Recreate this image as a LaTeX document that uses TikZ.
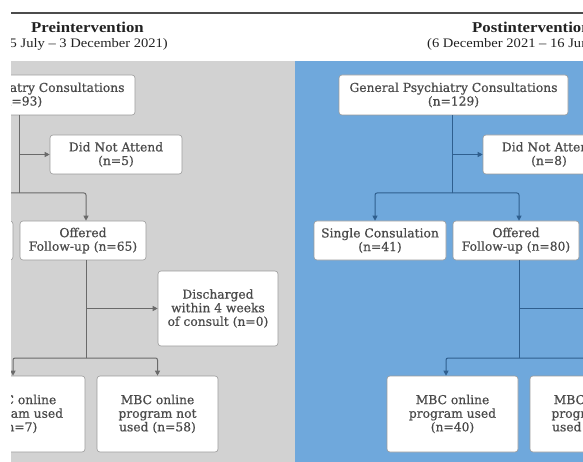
\documentclass[tikz,border=0pt]{standalone}
\usepackage{fontspec}
\setmainfont{DejaVu Serif}
\newfontfamily\boxfont[FakeBold=0.6]{DejaVu Serif}
\newfontfamily\titlefont[FakeStretch=1.12]{Liberation Serif}
\usetikzlibrary{arrows.meta}
\definecolor{panelgrey}{HTML}{D2D2D2}
\definecolor{panelblue}{HTML}{6FA8DC}
\definecolor{linegrey}{HTML}{6A6A6A}
\definecolor{lineblue}{HTML}{2F5F8F}
\definecolor{boxtext}{HTML}{4A4A4A}
\definecolor{boxedge}{HTML}{9A9A9A}
\definecolor{titletext}{HTML}{222222}
\begin{document}
\begin{tikzpicture}[x=1pt,y=-1pt,
  fbox/.style={draw=boxedge, line width=0.6pt, fill=white, rounded corners=3pt,
    align=center, text=boxtext, font=\boxfont\fontsize{12.3}{13.6}\selectfont, inner sep=0pt},
  lg/.style={draw=linegrey, line width=1pt, rounded corners=2pt},
  lb/.style={draw=lineblue, line width=1pt, rounded corners=2pt},
  arr/.style={-{Triangle[length=5pt,width=5pt]}},
  ttl/.style={font=\titlefont\bfseries\fontsize{15}{18}\selectfont, text=titletext, inner sep=0pt},
  sub/.style={font=\titlefont\fontsize{13}{15}\selectfont, text=titletext, inner sep=0pt}
]
\useasboundingbox[fill=white] (0,0) rectangle (583,462);
\begin{scope}
\clip (11,0) rectangle (583,462);
% panels
\fill[panelgrey] (-300,61) rectangle (294.5,470);
\fill[panelblue] (294.5,61) rectangle (800,470);
\draw[draw=black!70, line width=1.1pt] (0,13) -- (600,13);
% titles
\node[ttl] (Lt) at (87.5,27) {Preintervention};
\node[sub, anchor=east] (Ls) at (168,44) {(5 July – 3 December 2021)};
\node[ttl, anchor=west] (Bt) at (472,27) {Postintervention};
\node[sub, anchor=west] (Bs) at (427,44) {(6 December 2021 – 16 June 2022)};

% ---------- left panel boxes ----------
\node[fbox, minimum width=229pt, minimum height=40pt] (Lgen) at (20.5,95) {General Psychiatry Consultations\\(n=93)};
\node[fbox, minimum width=132pt, minimum height=39pt] (Ldna) at (116,154.5) {Did Not Attend\\(n=5)};
\node[fbox, minimum width=132pt, minimum height=39pt] (Lsingle) at (-53,240.5) {};
\node[fbox, minimum width=126pt, minimum height=39pt] (Loff) at (83,240.5) {Offered\\Follow-up (n=65)};
\node[fbox, minimum width=120pt, minimum height=75pt] (Ldis) at (218,308.5) {Discharged\\within 4 weeks\\of consult (n=0)};
\node[fbox, minimum width=131pt, minimum height=76pt] (Lused) at (19.5,414) {MBC online\\program used\\(n=7)};
\node[fbox, minimum width=121pt, minimum height=76pt] (Lnot) at (157.5,414) {MBC online\\program not\\used (n=58)};

% ---------- right panel boxes ----------
\node[fbox, minimum width=229pt, minimum height=40pt] (Bgen) at (453.5,95) {General Psychiatry Consultations\\(n=129)};
\node[fbox, minimum width=132pt, minimum height=39pt] (Bdna) at (549,154.5) {Did Not Attend\\(n=8)};
\node[fbox, minimum width=132pt, minimum height=39pt] (Bsingle) at (380,240.5) {Single Consulation\\(n=41)};
\node[fbox, minimum width=126pt, minimum height=39pt] (Boff) at (516,240.5) {Offered\\Follow-up (n=80)};
\node[fbox, minimum width=120pt, minimum height=75pt] (Bdis) at (651,308.5) {};
\node[fbox, minimum width=131pt, minimum height=76pt] (Bused) at (452.5,414) {MBC online\\program used\\(n=40)};
\node[fbox, minimum width=121pt, minimum height=76pt] (Bnot) at (590.5,414) {MBC online\\program not\\used (n=40)};

% ---------- left connectors ----------
\coordinate (Lj) at (19,193);
\coordinate (Lsa) at (-58,193);
\coordinate (Loa) at (86,193);
\coordinate (Lk) at (86,358);
\coordinate (Lu) at (13,358);
\draw[lg] (Lgen.south -| Lj) -- (Lj);
\draw[lg, arr] (Ldna.west -| Lj) -- (Ldna.west);
\draw[lg, arr] (Lj) -- (Lsa) -- (Lsingle.north -| Lsa);
\draw[lg, arr] (Lj) -- (Loa) -- (Loff.north -| Loa);
\draw[lg] (Loff.south -| Lk) -- (Lk);
\draw[lg, arr] (Ldis.west -| Lk) -- (Ldis.west);
\draw[lg, arr] (Lk) -- (Lu) -- (Lused.north -| Lu);
\draw[lg, arr] (Lk) -- (Lnot.north |- Lk) -- (Lnot.north);

% ---------- right connectors ----------
\coordinate (Bj) at (452,193);
\coordinate (Bsa) at (375,193);
\coordinate (Boa) at (519,193);
\coordinate (Bk) at (519,358);
\coordinate (Bu) at (446,358);
\draw[lb] (Bgen.south -| Bj) -- (Bj);
\draw[lb, arr] (Bdna.west -| Bj) -- (Bdna.west);
\draw[lb, arr] (Bj) -- (Bsa) -- (Bsingle.north -| Bsa);
\draw[lb, arr] (Bj) -- (Boa) -- (Boff.north -| Boa);
\draw[lb] (Boff.south -| Bk) -- (Bk);
\draw[lb, arr] (Bdis.west -| Bk) -- (Bdis.west);
\draw[lb, arr] (Bk) -- (Bu) -- (Bused.north -| Bu);
\draw[lb, arr] (Bk) -- (Bnot.north |- Bk) -- (Bnot.north);
\end{scope}
\end{tikzpicture}
\end{document}
